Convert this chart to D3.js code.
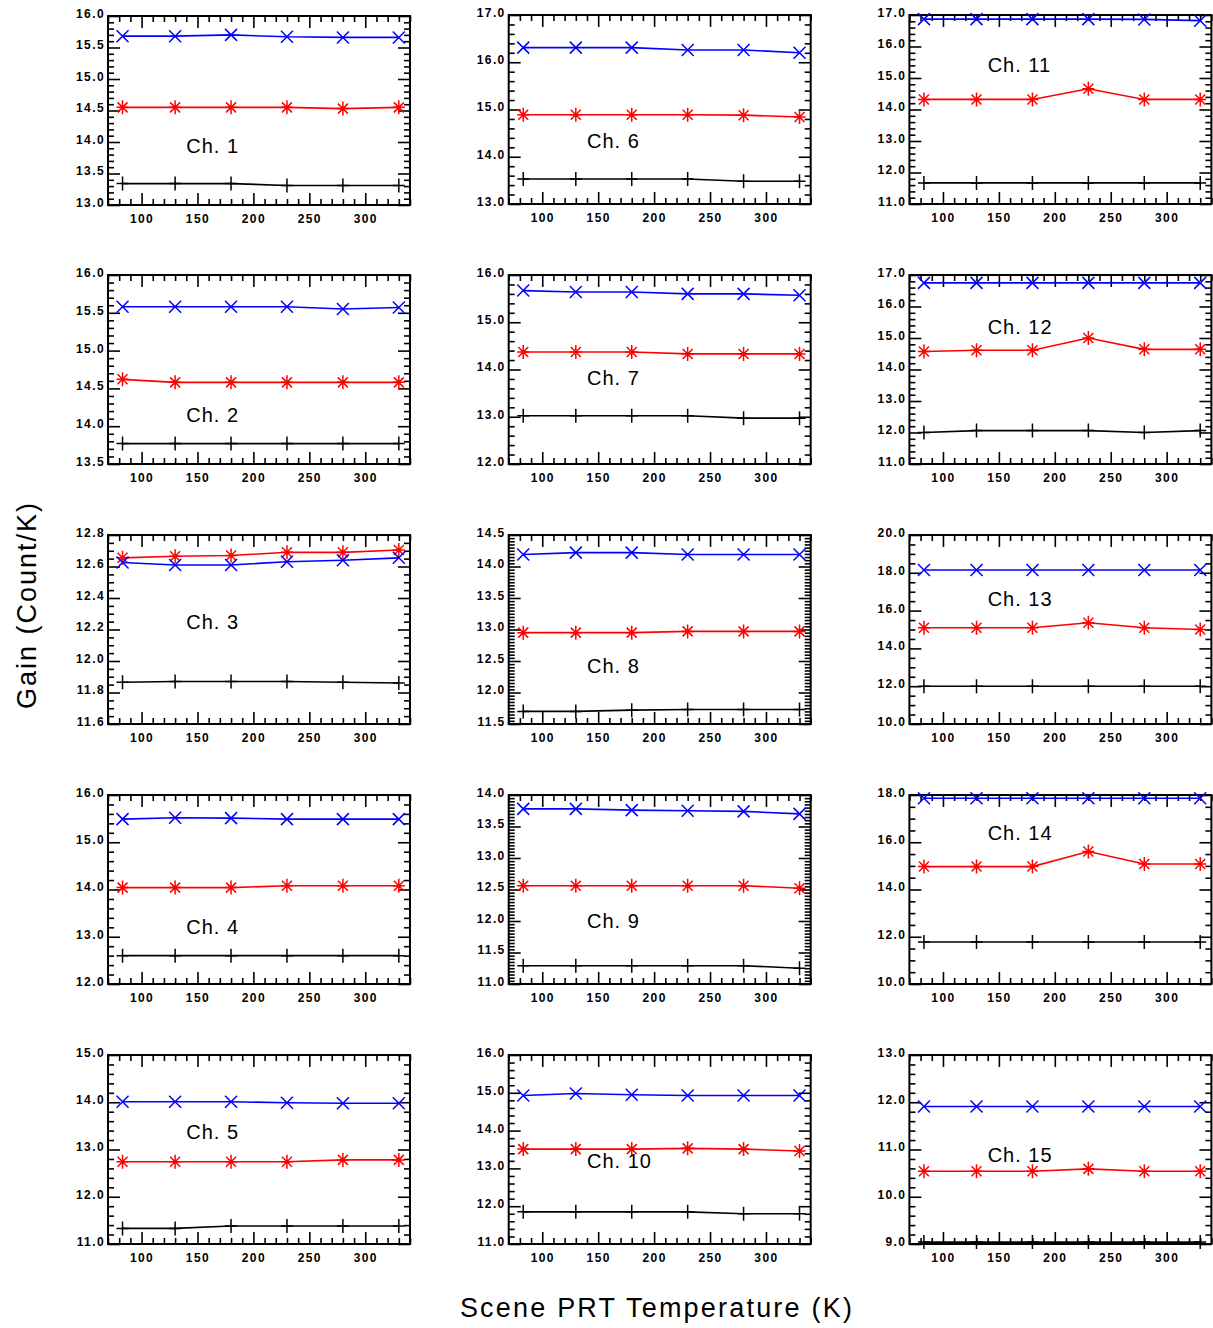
<!DOCTYPE html>
<html>
<head>
<meta charset="utf-8">
<script src="https://d3js.org/d3.v7.min.js"></script>
<style>
  body { margin: 0; background: #fff; }
  svg { display: block; }
</style>
</head>
<body>
<div id="chart"></div>
<script>
// scene PRT temperatures (K)
var temps = [83, 130, 180, 230, 280, 330];
var channels = ["Ch. 1","Ch. 2","Ch. 3","Ch. 4","Ch. 5","Ch. 6","Ch. 7","Ch. 8",
                "Ch. 9","Ch. 10","Ch. 11","Ch. 12","Ch. 13","Ch. 14","Ch. 15"];

// gain per channel, one row per channel
var blueGain = [
  [15.68,15.68,15.70,15.67,15.66,15.66],
  [15.58,15.58,15.58,15.58,15.55,15.57],
  [12.625,12.61,12.61,12.63,12.64,12.655],
  [15.49,15.52,15.51,15.49,15.49,15.49],
  [14.01,14.01,14.01,13.99,13.98,13.98],
  [16.31,16.31,16.31,16.26,16.26,16.20],
  [15.67,15.64,15.64,15.60,15.60,15.57],
  [14.19,14.22,14.22,14.19,14.19,14.19],
  [13.78,13.78,13.76,13.75,13.74,13.70],
  [14.93,14.98,14.95,14.93,14.93,14.93],
  [16.87,16.87,16.87,16.87,16.86,16.82],
  [16.75,16.75,16.75,16.75,16.75,16.75],
  [18.15,18.15,18.15,18.15,18.15,18.15],
  [17.86,17.86,17.86,17.86,17.86,17.86],
  [11.91,11.91,11.91,11.91,11.91,11.91]
];
var redGain = [
  [14.55,14.55,14.55,14.55,14.53,14.55],
  [14.62,14.58,14.58,14.58,14.58,14.58],
  [12.655,12.665,12.67,12.69,12.69,12.705],
  [14.04,14.04,14.04,14.08,14.08,14.08],
  [12.74,12.74,12.74,12.74,12.78,12.78],
  [14.89,14.89,14.89,14.89,14.88,14.84],
  [14.37,14.37,14.37,14.33,14.33,14.33],
  [12.95,12.95,12.95,12.97,12.97,12.97],
  [12.56,12.56,12.56,12.56,12.56,12.52],
  [13.51,13.51,13.51,13.53,13.51,13.46],
  [14.32,14.32,14.32,14.66,14.32,14.32],
  [14.57,14.61,14.61,15.00,14.64,14.64],
  [15.09,15.09,15.09,15.36,15.09,15.00],
  [14.97,14.97,14.97,15.61,15.08,15.08],
  [10.54,10.54,10.54,10.59,10.54,10.54]
];
var blackGain = [
  [13.34,13.34,13.34,13.31,13.31,13.31],
  [13.77,13.77,13.77,13.77,13.77,13.77],
  [11.865,11.87,11.87,11.87,11.865,11.86],
  [12.60,12.60,12.60,12.60,12.60,12.60],
  [11.33,11.33,11.38,11.38,11.38,11.38],
  [13.53,13.53,13.53,13.53,13.48,13.48],
  [13.02,13.02,13.02,13.02,12.97,12.97],
  [11.70,11.70,11.72,11.73,11.73,11.73],
  [11.29,11.29,11.29,11.29,11.29,11.25],
  [11.85,11.85,11.85,11.85,11.80,11.80],
  [11.67,11.67,11.67,11.67,11.67,11.67],
  [12.00,12.06,12.06,12.06,12.00,12.06],
  [12.00,12.00,12.00,12.00,12.00,12.00],
  [11.78,11.78,11.78,11.78,11.78,11.78],
  [9.04,9.04,9.04,9.04,9.04,9.04]
];

// y axis ranges and tick steps
var yMin   = [13.0,13.5,11.6,12.0,11.0, 13.0,12.0,11.5,11.0,11.0, 11.0,11.0,10.0,10.0, 9.0];
var yMax   = [16.0,16.0,12.8,16.0,15.0, 17.0,16.0,14.5,14.0,16.0, 17.0,17.0,20.0,18.0,13.0];
var yMajor = [0.5,0.5,0.2,1.0,1.0, 1.0,1.0,0.5,0.5,1.0, 1.0,1.0,2.0,2.0,1.0];
var yMinor = [0.1,0.1,0.05,0.2,0.2, 0.2,0.2,0.05,0.05,0.2, 0.2,0.2,0.5,0.5,0.2];
// where the "Ch." label sits, in gain units (x at 140 K)
var labelGain = [13.94,14.15,12.25,13.2,13.37, 14.33,13.82,12.42,12.0,13.2, 15.41,15.35,16.6,16.4,10.88];

var xDomain = [70, 340];
var xMajorTicks = [100, 150, 200, 250, 300];

var width = 1213, height = 1328;
var panelW = 302, panelH = 189;

function steps(lo, hi, st) {
  var n = Math.round((hi - lo) / st);
  return d3.range(n + 1).map(function(i) { return +(lo + i * st).toFixed(4); });
}

var svg = d3.select("#chart").append("svg")
  .attr("width", width)
  .attr("height", height);

var xMinorTicks = steps(xDomain[0], xDomain[1], 10).filter(function(v) { return xMajorTicks.indexOf(v) < 0; });

channels.forEach(function(name, i) {
  var col = Math.floor(i / 5), row = i % 5;
  var left = 108 + col * 400.7, top = (col == 0 && row == 0 ? 16 : 15) + row * 260;

  var x = d3.scaleLinear().domain(xDomain).range([0, panelW]);
  var y = d3.scaleLinear().domain([yMin[i], yMax[i]]).range([panelH, 0]);

  var yMaj = steps(yMin[i], yMax[i], yMajor[i]);
  var yMin_ = steps(yMin[i], yMax[i], yMinor[i]).filter(function(v) {
    return !yMaj.some(function(m) { return Math.abs(m - v) < 1e-6; });
  });

  var g = svg.append("g").attr("transform", "translate(" + left + "," + top + ")");

  function addAxis(axis, tx, ty, labels) {
    var a = g.append("g").attr("transform", "translate(" + tx + "," + ty + ")").call(axis);
    a.select(".domain").remove();
    a.selectAll(".tick line").attr("stroke", "#000").attr("stroke-width", 1.6);
    if (!labels) a.selectAll(".tick text").remove();
    a.selectAll(".tick text")
      .attr("fill", "#000")
      .attr("font-family", "Liberation Sans, Arial, sans-serif")
      .attr("font-weight", "bold")
      .attr("font-size", 12)
      .attr("letter-spacing", "1.4px");
    return a;
  }

  // bottom / top
  addAxis(d3.axisBottom(x).tickValues(xMajorTicks).tickSize(-12).tickPadding(9).tickFormat(d3.format("d")), 0, panelH, true);
  addAxis(d3.axisBottom(x).tickValues(xMinorTicks).tickSize(-6), 0, panelH, false);
  addAxis(d3.axisTop(x).tickValues(xMajorTicks).tickSize(-12), 0, 0, false);
  addAxis(d3.axisTop(x).tickValues(xMinorTicks).tickSize(-6), 0, 0, false);

  // left / right
  addAxis(d3.axisLeft(y).tickValues(yMaj).tickSize(-12).tickPadding(3).tickFormat(d3.format(".1f")), 0, 0, true)
    .selectAll(".tick text").attr("dy", "0.12em");
  addAxis(d3.axisLeft(y).tickValues(yMin_).tickSize(-6), 0, 0, false);
  addAxis(d3.axisRight(y).tickValues(yMaj).tickSize(-12), panelW, 0, false);
  addAxis(d3.axisRight(y).tickValues(yMin_).tickSize(-6), panelW, 0, false);

  g.append("rect")
    .attr("width", panelW).attr("height", panelH)
    .attr("fill", "none").attr("stroke", "#000").attr("stroke-width", 2);

  var line = d3.line().x(function(d) { return x(d[0]); }).y(function(d) { return y(d[1]); });

  var series = [
    { vals: blackGain[i], color: "#000", mark: "M0,-7L0,7M-6,0L6,0" },
    { vals: redGain[i], color: "#ff0000", mark: "M0,-7L0,7M-6,0L6,0M-5,-5L5,5M-5,5L5,-5" },
    { vals: blueGain[i], color: "#0000ff", mark: "M-6,-6L6,6M-6,6L6,-6" }
  ];

  series.forEach(function(s) {
    var pts = temps.map(function(t, j) { return [t, s.vals[j]]; });
    g.append("path").datum(pts)
      .attr("d", line)
      .attr("fill", "none").attr("stroke", s.color).attr("stroke-width", 1.6);
    g.selectAll(null).data(pts).enter().append("path")
      .attr("transform", function(d) { return "translate(" + x(d[0]) + "," + y(d[1]) + ")"; })
      .attr("d", s.mark)
      .attr("fill", "none").attr("stroke", s.color).attr("stroke-width", 1.5);
  });

  g.append("text")
    .attr("x", x(140)).attr("y", y(labelGain[i]))
    .attr("dy", "0.35em")
    .attr("font-family", "Liberation Sans, Arial, sans-serif")
    .attr("font-size", 20).attr("letter-spacing", "1px")
    .attr("fill", "#000")
    .text(name);
});

svg.append("text")
  .attr("transform", "translate(27,605) rotate(-90)")
  .attr("text-anchor", "middle").attr("dy", "0.35em")
  .attr("font-family", "Liberation Sans, Arial, sans-serif")
  .attr("font-size", 27).attr("letter-spacing", "2px")
  .text("Gain (Count/K)");

svg.append("text")
  .attr("x", 657).attr("y", 1308)
  .attr("text-anchor", "middle").attr("dy", "0.35em")
  .attr("font-family", "Liberation Sans, Arial, sans-serif")
  .attr("font-size", 27).attr("letter-spacing", "2.2px")
  .text("Scene PRT Temperature (K)");
</script>
</body>
</html>
